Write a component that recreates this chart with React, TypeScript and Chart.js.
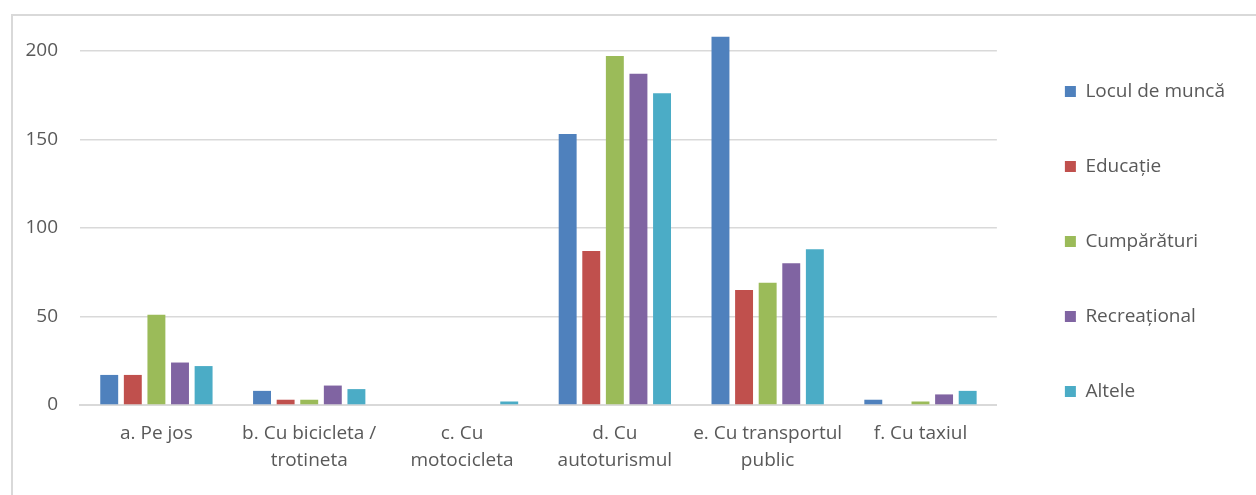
import React, { useEffect, useRef } from "react";
import { Chart, registerables } from "chart.js";

Chart.register(...registerables);

const categories: string[][] = [
  ["a. Pe jos"],
  ["b. Cu bicicleta /", "trotineta"],
  ["c. Cu", "motocicleta"],
  ["d. Cu", "autoturismul"],
  ["e. Cu transportul", "public"],
  ["f. Cu taxiul"],
];

const seriesNames = ["Locul de muncă", "Educație", "Cumpărături", "Recreațional", "Altele"];
const seriesColors = ["#4F81BD", "#C0504D", "#9BBB59", "#8064A2", "#4BACC6"];

const loculDeMunca = [17, 8, 0, 153, 208, 3];
const educatie = [17, 3, 0, 87, 65, 0];
const cumparaturi = [51, 3, 0, 197, 69, 2];
const recreational = [24, 11, 0, 187, 80, 6];
const altele = [22, 9, 2, 176, 88, 8];

const yTicks = [0, 50, 100, 150, 200];
const yMax = 214;

const FONT = "'Open Sans', sans-serif";
const TEXT = "#595959";

export default function App() {
  const ref = useRef<HTMLCanvasElement | null>(null);

  useEffect(() => {
    if (!ref.current) return;
    const values = [loculDeMunca, educatie, cumparaturi, recreational, altele];
    const chart = new Chart(ref.current, {
      type: "bar",
      data: {
        labels: categories,
        datasets: seriesNames.map((name, i) => ({
          label: name,
          data: values[i],
          backgroundColor: seriesColors[i],
          borderWidth: 0,
          categoryPercentage: 0.772,
          barPercentage: 0.76,
        })),
      },
      options: {
        responsive: false,
        animation: false,
        layout: { padding: { top: 10, left: 0, right: 21, bottom: 12 } },
        plugins: {
          legend: {
            position: "right",
            align: "start",
            maxWidth: 320,
            labels: {
              boxWidth: 11,
              boxHeight: 11,
              padding: 56,
              color: TEXT,
              font: { family: FONT, size: 19 },
            },
          },
          tooltip: { enabled: false },
        },
        scales: {
          x: {
            grid: { display: false, drawTicks: false },
            border: { display: true, color: "#d9d9d9", width: 2 },
            ticks: {
              color: TEXT,
              padding: 15,
              maxRotation: 0,
              autoSkip: false,
              font: { family: FONT, size: 19, lineHeight: 1.42 },
            },
          },
          y: {
            min: 0,
            max: yMax,
            afterBuildTicks: (scale: any) => {
              scale.ticks = yTicks.map((v) => ({ value: v }));
            },
            afterFit: (scale: any) => {
              scale.width = 67;
              scale.paddingTop = 0;
              scale.paddingBottom = 0;
            },
            grid: {
              drawTicks: false,
              color: "#d9d9d9",
              lineWidth: 1.5,
            },
            border: { display: false },
            ticks: {
              color: TEXT,
              padding: 22,
              font: { family: FONT, size: 19 },
            },
          },
          y2: {
            position: "right",
            display: true,
            grid: { display: false, drawTicks: false },
            border: { display: false },
            ticks: { display: false },
            afterFit: (scale: any) => {
              scale.width = 12;
              scale.paddingTop = 0;
              scale.paddingBottom = 0;
            },
          },
        },
      },
    });
    return () => chart.destroy();
  }, []);

  return (
    <div
      style={{
        position: "fixed",
        left: 11,
        top: 14,
        width: 1260,
        height: 520,
        borderLeft: "2px solid #d9d9d9",
        borderTop: "2px solid #d9d9d9",
        background: "#fff",
      }}
    >
      <canvas ref={ref} width={1243} height={485} style={{ display: "block" }} />
    </div>
  );
}
